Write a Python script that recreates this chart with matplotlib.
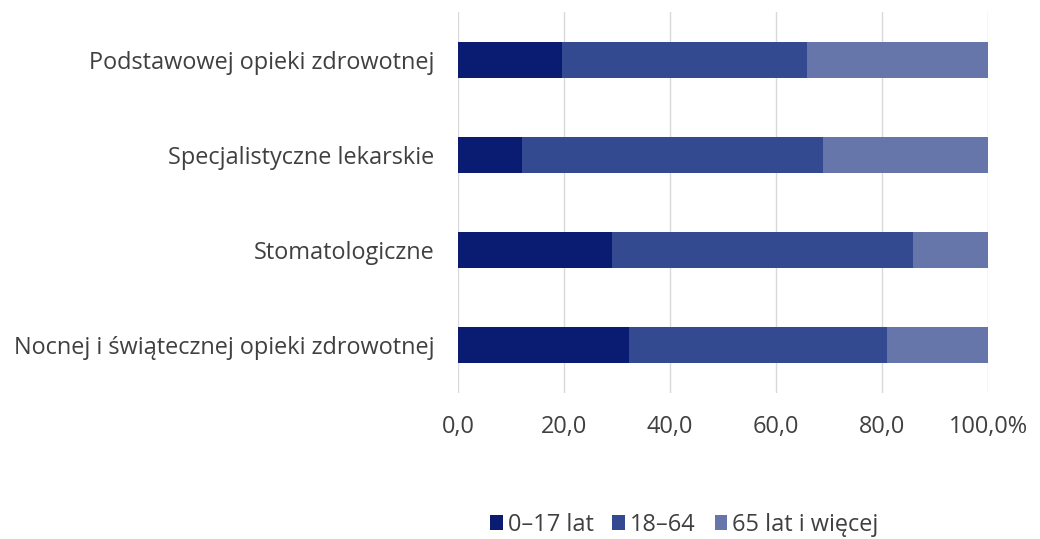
import matplotlib.pyplot as plt
from matplotlib.ticker import FuncFormatter

categories = [
    "Podstawowej opieki zdrowotnej",
    "Specjalistyczne lekarskie",
    "Stomatologiczne",
    "Nocnej i świątecznej opieki zdrowotnej",
]
series_names = ["0–17 lat", "18–64", "65 lat i więcej"]
age_0_17 = [19.7, 12.0, 29.0, 32.3]
age_18_64 = [46.2, 56.9, 56.9, 48.7]
age_65_plus = [34.1, 31.1, 14.1, 19.0]
x_ticks = [0, 20, 40, 60, 80, 100]

colors = ["#0a1c72", "#344a90", "#6676aa"]
text_color = "#404040"
fs = 16.9

plt.rcParams['font.family'] = ['Open Sans', 'DejaVu Sans']

fig = plt.figure(figsize=(10.4, 5.39), dpi=100)
ax = fig.add_axes([0.4404, 0.2709, 0.5096, 0.7068])

y = list(range(len(categories)))
left = [0.0] * len(categories)
for name, vals, c in zip(series_names, [age_0_17, age_18_64, age_65_plus], colors):
    ax.barh(y, vals, left=left, height=0.38, color=c, label=name, zorder=3)
    left = [l + v for l, v in zip(left, vals)]

ax.set_ylim(len(categories) - 0.5, -0.5)
ax.set_yticks(y)
ax.set_yticklabels(categories, fontsize=fs, color=text_color)
ax.set_xlim(0, 100)
ax.set_xticks(x_ticks)
ax.xaxis.set_major_formatter(FuncFormatter(
    lambda v, p: f"{v:.1f}".replace(".", ",") + ("%" if v == 100 else "")))
for lab in ax.get_xticklabels():
    lab.set_fontsize(fs)
    lab.set_color(text_color)

ax.grid(axis='x', color='#d9d9d9', linewidth=1, zorder=0)
ax.tick_params(axis='y', length=0, pad=17)
ax.tick_params(axis='x', length=0, pad=16)
for s in ax.spines.values():
    s.set_visible(False)

leg = fig.legend(loc='lower center', bbox_to_anchor=(0.658, -0.035), ncol=3,
                 frameon=False, fontsize=fs, handlelength=0.55, handleheight=0.55,
                 handletextpad=0.2, columnspacing=0.8)
for t in leg.get_texts():
    t.set_color(text_color)

plt.savefig("out.png", dpi=100)
plt.close(fig)
